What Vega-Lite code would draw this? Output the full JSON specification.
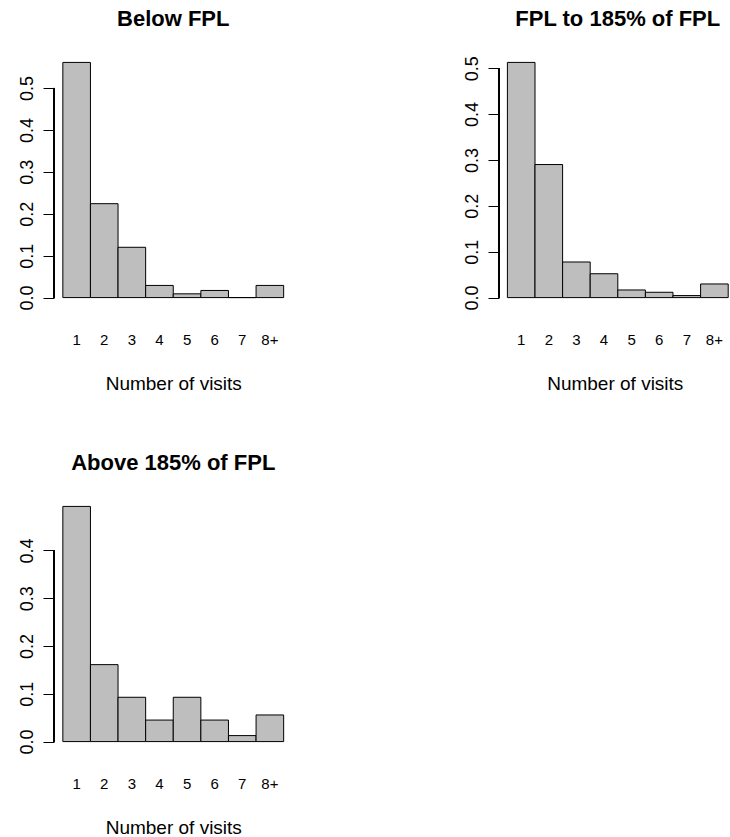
{
  "$schema": "https://vega.github.io/schema/vega-lite/v6.json",
  "padding": {"left": 17, "top": 8, "right": 0, "bottom": 0},
  "autosize": {"type": "pad"},
  "background": "white",
  "config": {
    "view": {"stroke": null},
    "font": "Liberation Sans",
    "axis": {"labelColor": "black", "titleColor": "black", "grid": false, "labelFont": "Liberation Sans", "titleFont": "Liberation Sans"}
  },
  "data": {
    "values": [
      {"panel": "Below FPL", "visits": "1", "value": 0.561},
      {"panel": "Below FPL", "visits": "2", "value": 0.224},
      {"panel": "Below FPL", "visits": "3", "value": 0.120},
      {"panel": "Below FPL", "visits": "4", "value": 0.029},
      {"panel": "Below FPL", "visits": "5", "value": 0.009},
      {"panel": "Below FPL", "visits": "6", "value": 0.017},
      {"panel": "Below FPL", "visits": "7", "value": 0.0},
      {"panel": "Below FPL", "visits": "8+", "value": 0.029},
      {"panel": "FPL to 185% of FPL", "visits": "1", "value": 0.5126},
      {"panel": "FPL to 185% of FPL", "visits": "2", "value": 0.290},
      {"panel": "FPL to 185% of FPL", "visits": "3", "value": 0.0776},
      {"panel": "FPL to 185% of FPL", "visits": "4", "value": 0.052},
      {"panel": "FPL to 185% of FPL", "visits": "5", "value": 0.0166},
      {"panel": "FPL to 185% of FPL", "visits": "6", "value": 0.0116},
      {"panel": "FPL to 185% of FPL", "visits": "7", "value": 0.0044},
      {"panel": "FPL to 185% of FPL", "visits": "8+", "value": 0.0297},
      {"panel": "Above 185% of FPL", "visits": "1", "value": 0.492},
      {"panel": "Above 185% of FPL", "visits": "2", "value": 0.161},
      {"panel": "Above 185% of FPL", "visits": "3", "value": 0.0927},
      {"panel": "Above 185% of FPL", "visits": "4", "value": 0.045},
      {"panel": "Above 185% of FPL", "visits": "5", "value": 0.0927},
      {"panel": "Above 185% of FPL", "visits": "6", "value": 0.045},
      {"panel": "Above 185% of FPL", "visits": "7", "value": 0.0125},
      {"panel": "Above 185% of FPL", "visits": "8+", "value": 0.0557}
    ]
  },
  "columns": 2,
  "bounds": "flush",
  "spacing": {"column": 206, "row": 190},
  "concat": [
    {
      "title": {"text": "Below FPL", "anchor": "middle", "fontSize": 22, "fontWeight": "bold", "font": "Liberation Sans", "baseline": "alphabetic", "offset": 5, "color": "black"},
      "width": 238.5,
      "height": 254,
      "transform": [{"filter": "datum.panel === 'Below FPL'"}],
      "layer": [
        {
          "mark": {"type": "bar", "fill": "#bebebe", "stroke": "black", "strokeWidth": 1},
          "encoding": {
            "x": {"field": "visits", "type": "ordinal", "sort": null,
              "scale": {"paddingInner": 0, "paddingOuter": 0.32},
              "axis": {"domain": false, "ticks": false, "tickSize": 0, "labelAngle": 0, "labelFontSize": 15, "labelBaseline": "alphabetic", "labelPadding": 37.6, "title": "Number of visits", "titleFontSize": 19, "titleFontWeight": "normal", "titleBaseline": "alphabetic", "titleY": 82}},
            "y": {"field": "value", "type": "quantitative",
              "scale": {"domain": [-0.02244, 0.58344], "nice": false, "zero": false},
              "axis": {"values": [0, 0.1, 0.2, 0.3, 0.4, 0.5], "format": ".1f", "domain": false, "tickSize": 11, "tickColor": "black", "tickWidth": 1, "labelAngle": 270, "labelAlign": "center", "labelBaseline": "alphabetic", "labelPadding": 11, "labelFontSize": 18, "title": null}},
            "y2": {"datum": 0}
          }
        },
        {
          "mark": {"type": "rule", "color": "black", "strokeWidth": 1},
          "encoding": {"x": {"value": 0}, "y": {"datum": 0}, "y2": {"datum": 0.5}}
        }
      ]
    },
    {
      "title": {"text": "FPL to 185% of FPL", "anchor": "middle", "fontSize": 22, "fontWeight": "bold", "font": "Liberation Sans", "baseline": "alphabetic", "offset": 5, "dx": 3, "color": "black"},
      "width": 231.5,
      "height": 254,
      "transform": [{"filter": "datum.panel === 'FPL to 185% of FPL'"}],
      "layer": [
        {
          "mark": {"type": "bar", "fill": "#bebebe", "stroke": "black", "strokeWidth": 1},
          "encoding": {
            "x": {"field": "visits", "type": "ordinal", "sort": null,
              "scale": {"paddingInner": 0, "paddingOuter": 0.194, "align": 0.785},
              "axis": {"domain": false, "ticks": false, "tickSize": 0, "labelAngle": 0, "labelFontSize": 15, "labelBaseline": "alphabetic", "labelPadding": 37.6, "title": "Number of visits", "titleFontSize": 19, "titleFontWeight": "normal", "titleBaseline": "alphabetic", "titleY": 82}},
            "y": {"field": "value", "type": "quantitative",
              "scale": {"domain": [-0.0205, 0.5331], "nice": false, "zero": false},
              "axis": {"values": [0, 0.1, 0.2, 0.3, 0.4, 0.5], "format": ".1f", "domain": false, "tickSize": 11, "tickColor": "black", "tickWidth": 1, "labelAngle": 270, "labelAlign": "center", "labelBaseline": "alphabetic", "labelPadding": 11, "labelFontSize": 18, "title": null}},
            "y2": {"datum": 0}
          }
        },
        {
          "mark": {"type": "rule", "color": "black", "strokeWidth": 1},
          "encoding": {"x": {"value": 0}, "y": {"datum": 0}, "y2": {"datum": 0.5}}
        }
      ]
    },
    {
      "title": {"text": "Above 185% of FPL", "anchor": "middle", "fontSize": 22, "fontWeight": "bold", "font": "Liberation Sans", "baseline": "alphabetic", "offset": 5, "color": "black"},
      "width": 238.5,
      "height": 254,
      "transform": [{"filter": "datum.panel === 'Above 185% of FPL'"}],
      "layer": [
        {
          "mark": {"type": "bar", "fill": "#bebebe", "stroke": "black", "strokeWidth": 1},
          "encoding": {
            "x": {"field": "visits", "type": "ordinal", "sort": null,
              "scale": {"paddingInner": 0, "paddingOuter": 0.32},
              "axis": {"domain": false, "ticks": false, "tickSize": 0, "labelAngle": 0, "labelFontSize": 15, "labelBaseline": "alphabetic", "labelPadding": 37.6, "title": "Number of visits", "titleFontSize": 19, "titleFontWeight": "normal", "titleBaseline": "alphabetic", "titleY": 82}},
            "y": {"field": "value", "type": "quantitative",
              "scale": {"domain": [-0.0197, 0.5117], "nice": false, "zero": false},
              "axis": {"values": [0, 0.1, 0.2, 0.3, 0.4], "format": ".1f", "domain": false, "tickSize": 11, "tickColor": "black", "tickWidth": 1, "labelAngle": 270, "labelAlign": "center", "labelBaseline": "alphabetic", "labelPadding": 11, "labelFontSize": 18, "title": null}},
            "y2": {"datum": 0}
          }
        },
        {
          "mark": {"type": "rule", "color": "black", "strokeWidth": 1},
          "encoding": {"x": {"value": 0}, "y": {"datum": 0}, "y2": {"datum": 0.4}}
        }
      ]
    }
  ]
}
